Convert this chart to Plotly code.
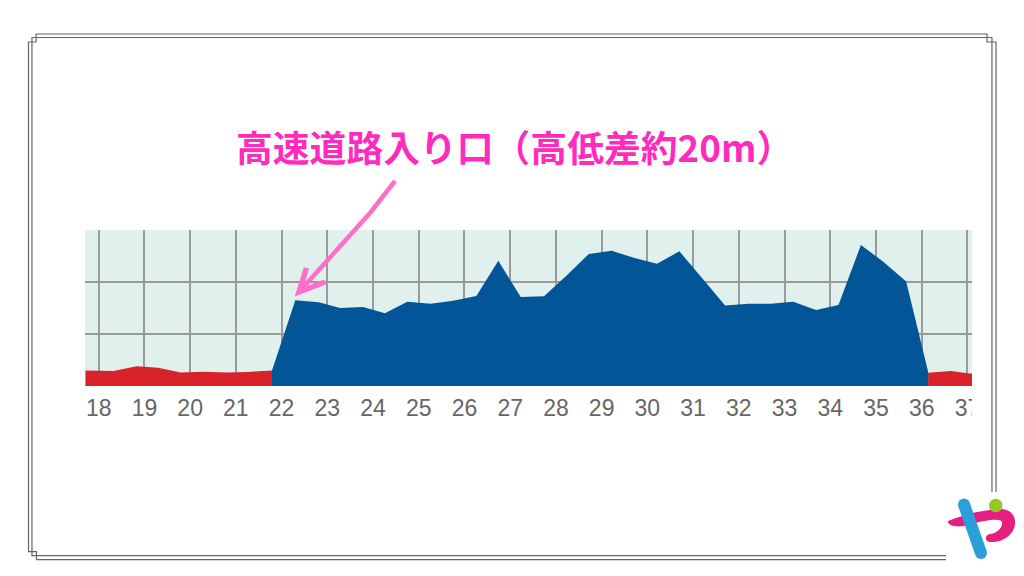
import plotly.graph_objects as go

W, H = 1024, 576
L, R, T, B = 85, 972, 230, 386

km_ticks = list(range(18, 38))
height_ticks = [0, 10, 20, 30]

# 一般道の区間（赤）
red1_km = [17.71, 18.32, 18.83, 19.30, 19.79, 20.29, 20.80, 21.24, 21.79]
red1_h = [3.0, 2.9, 3.8, 3.5, 2.6, 2.75, 2.6, 2.7, 3.0]
red2_km = [36.14, 36.63, 37.10]
red2_h = [2.55, 2.9, 2.35]

# 高速道路の区間（青）
blue_km = [21.79, 22.30, 22.81, 23.28, 23.78, 24.26, 24.75, 25.26, 25.75, 26.26,
           26.74, 27.23, 27.74, 28.24, 28.72, 29.22, 29.72, 30.21, 30.70, 31.19,
           31.70, 32.21, 32.70, 33.19, 33.69, 34.18, 34.67, 35.16, 35.66, 36.14]
blue_h = [3.0, 16.5, 16.1, 15.0, 15.2, 14.0, 16.2, 15.8, 16.4, 17.3,
          24.1, 17.1, 17.25, 21.3, 25.4, 26.0, 24.6, 23.5, 25.9, 20.8,
          15.5, 15.8, 15.8, 16.2, 14.6, 15.6, 27.1, 23.9, 20.1, 2.75]


def px(x):
    return (x - L) / (R - L)


def py(y):
    return (B - y) / (B - T)


def path(points):
    return 'M ' + ' L '.join('%.4f,%.4f' % (px(x), py(y)) for x, y in points)


def line_shape(points, color, width):
    return dict(type='path', xref='paper', yref='paper', path=path(points),
                line=dict(color=color, width=width), layer='above')


def circle(cx, cy, r, color):
    return dict(type='circle', xref='paper', yref='paper', x0=px(cx - r), x1=px(cx + r),
                y0=py(cy + r), y1=py(cy - r), fillcolor=color, line=dict(width=0), layer='above')


fig = go.Figure()

fig.add_trace(go.Scatter(x=red1_km, y=red1_h, fill='tozeroy', mode='none', fillcolor='#d9232b'))
fig.add_trace(go.Scatter(x=red2_km, y=red2_h, fill='tozeroy', mode='none', fillcolor='#d9232b'))
fig.add_trace(go.Scatter(x=blue_km, y=blue_h, fill='tozeroy', mode='none', fillcolor='#025596'))

frame_color = '#666666'
outer = [(946, 559.7), (36.5, 559.7), (36.5, 551.7), (28.5, 551.7), (28.5, 42), (36, 42), (36, 34),
         (987, 34), (987, 42), (996, 42), (996, 492)]
inner = [(946, 555.7), (32, 555.7), (32, 37.5), (992, 37.5), (992, 492)]

# ロゴのマゼンタ部分
hook_pts = [(948, 521), (958, 517), (975, 511), (998, 509),
            (1010, 508), (1016, 515), (1015, 524),
            (1014, 535), (1002, 543), (990, 542),
            (984, 541), (985, 535), (990, 534),
            (998, 533), (1003, 527), (1002, 522),
            (1001, 518), (985, 520), (972, 524),
            (960, 528), (948, 527), (948, 521)]
hook_d = 'M %.4f,%.4f' % (px(hook_pts[0][0]), py(hook_pts[0][1]))
for i in range(1, len(hook_pts), 3):
    a, b, c = hook_pts[i:i + 3]
    hook_d += ' C %.4f,%.4f %.4f,%.4f %.4f,%.4f' % (px(a[0]), py(a[1]), px(b[0]), py(b[1]), px(c[0]), py(c[1]))
hook_d += ' Z'

shapes = [
    # 37 のラベルは元画像で右端が切れている
    dict(type='rect', xref='paper', yref='paper', x0=px(R), x1=px(990), y0=py(430), y1=py(392),
         fillcolor='white', line=dict(width=0), layer='above'),
    line_shape(outer, frame_color, 1.2),
    line_shape(inner, frame_color, 1.2),
    line_shape([(395, 181), (370, 213), (335, 252), (299, 292)], '#ff6ec7', 4.5),
    line_shape([(306.5, 268), (299, 292), (325, 282)], '#ff6ec7', 5.5),
    dict(type='path', xref='paper', yref='paper', path=hook_d, fillcolor='#e3207f',
         line=dict(width=0), layer='above'),
    line_shape([(964, 504.5), (981, 553)], '#2b9fd9', 12),
    circle(964, 504.5, 6, '#2b9fd9'),
    circle(981, 553, 6, '#2b9fd9'),
    circle(995.7, 505.5, 6.8, '#95c823'),
]

fig.update_layout(
    width=W, height=H,
    margin=dict(l=L, r=W - R, t=T, b=H - B, pad=0),
    paper_bgcolor='white',
    plot_bgcolor='#e0f0ec',
    showlegend=False,
    shapes=shapes,
    annotations=[dict(
        text='<b>高速道路入り口（高低差約20m）</b>',
        xref='paper', yref='paper', x=px(514), y=py(146),
        xanchor='center', yanchor='middle', showarrow=False,
        font=dict(family='Noto Sans CJK JP', size=36.8, color='#ff2bbd'),
    )],
)
fig.update_xaxes(range=[17.70, 37.10], tickvals=km_ticks, ticktext=[str(k) for k in km_ticks],
                 showgrid=True, gridcolor='#9a9a9a', gridwidth=1.5, zeroline=False,
                 ticks='', ticklen=0, ticklabelstandoff=6,
                 tickfont=dict(family='Liberation Sans', size=23, color='#666666'))
fig.update_yaxes(range=[0, 30], tickvals=height_ticks, showticklabels=False,
                 showgrid=True, gridcolor='#9a9a9a', gridwidth=1.5, zeroline=False, ticks='')

fig.write_html("out.html", config={'displayModeBar': False},
               post_script="document.body.style.margin='0';")
